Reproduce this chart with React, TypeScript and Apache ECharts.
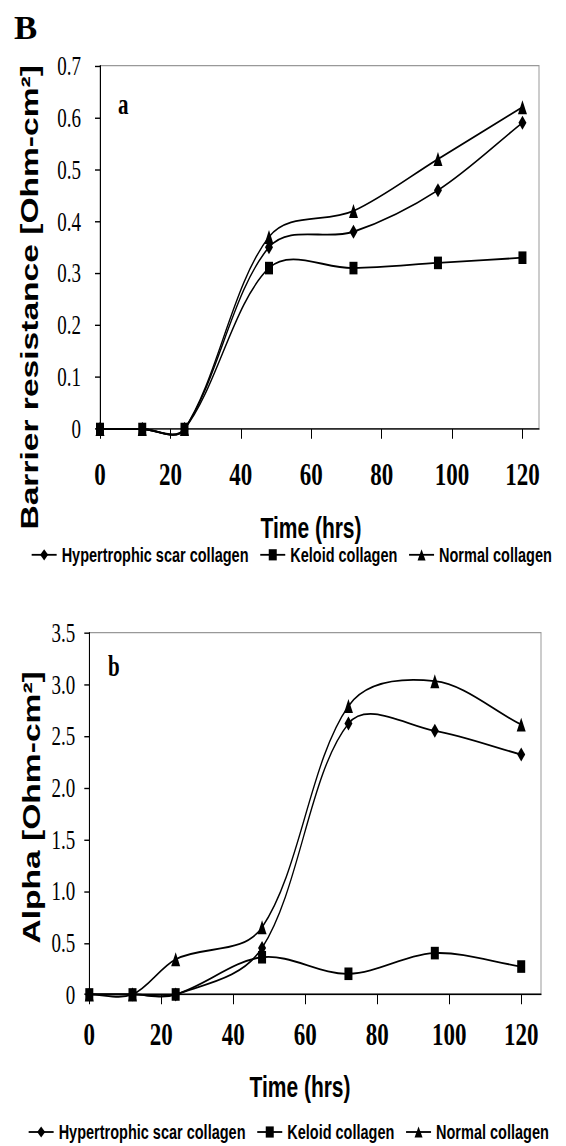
import React, { useEffect, useRef } from "react";
import * as echarts from "echarts";

const TIME_HOURS = [0, 12, 24, 48, 72, 96, 120];
const X_TICKS = [0, 20, 40, 60, 80, 100, 120];
const SERIES_NAMES = ["Hypertrophic scar collagen", "Keloid collagen", "Normal collagen"];

const BARRIER_HYPERTROPHIC = [0, 0, 0, 0.35, 0.38, 0.46, 0.59];
const BARRIER_KELOID = [0, 0, 0, 0.31, 0.31, 0.32, 0.33];
const BARRIER_NORMAL = [0, 0, 0, 0.37, 0.42, 0.52, 0.62];

const ALPHA_HYPERTROPHIC = [0, 0, 0, 0.45, 2.62, 2.55, 2.32];
const ALPHA_KELOID = [0, 0, 0, 0.36, 0.2, 0.4, 0.27];
const ALPHA_NORMAL = [0, 0, 0.34, 0.65, 2.79, 3.03, 2.61];

const W = 566;
const H = 819;
const K = 1146 / H;

const SERIF = '"Liberation Serif", "Times New Roman", serif';
const SANS = '"Liberation Sans", Arial, sans-serif';

const SYMBOLS = ["diamond", "rect", "triangle"];
const SYMBOL_SIZES: any[] = [[8, 10], [8, 9], [9, 10]];

// markers (and legend entries) as line series; the visible line is drawn by a custom series
function makeMarkers(values: number[][], axisIndex: number) {
  return values.map((ys, i) => ({
    type: "line",
    name: SERIES_NAMES[i],
    xAxisIndex: axisIndex,
    yAxisIndex: axisIndex,
    data: TIME_HOURS.map((t, j) => [t, ys[j]]),
    symbol: SYMBOLS[i],
    symbolSize: SYMBOL_SIZES[i],
    showSymbol: true,
    lineStyle: { color: "#000", width: 1.3, opacity: 0 },
    itemStyle: { color: "#000" },
    z: 3,
  }));
}

// Excel-like smoothed curves (cardinal Bezier, tangents weighted by segment length)
function makeCurves(values: number[][], axisIndex: number) {
  const n = TIME_HOURS.length;
  const clamp = (k: number) => Math.max(0, Math.min(n - 1, k));
  const S = 1 / 3;
  return values.map((ys) => ({
    type: "custom",
    xAxisIndex: axisIndex,
    yAxisIndex: axisIndex,
    silent: true,
    clip: false,
    z: 2,
    data: TIME_HOURS.slice(0, -1).map((t, i) => [t, ys[i], TIME_HOURS[i + 1], ys[i + 1]]),
    encode: { x: [0, 2], y: [1, 3] },
    renderItem: (params: any, api: any) => {
      const i = params.dataIndex;
      const p = (k: number) => api.coord([TIME_HOURS[clamp(k)], ys[clamp(k)]]);
      const dist = (a: number[], b: number[]) => Math.hypot(a[0] - b[0], a[1] - b[1]);
      const p0 = p(i - 1);
      const p1 = p(i);
      const p2 = p(i + 1);
      const p3 = p(i + 2);
      const d01 = dist(p0, p1);
      const d12 = dist(p1, p2);
      const d23 = dist(p2, p3);
      // outgoing control at p1
      const w1 = d01 + d12 > 0 ? (2 * d12) / (d01 + d12) : 0;
      const w2 = d12 + d23 > 0 ? (2 * d12) / (d12 + d23) : 0;
      const a = S * 0.5 * w1;
      const b = S * 0.5 * w2;
      return {
        type: "bezierCurve",
        shape: {
          x1: p1[0],
          y1: p1[1],
          x2: p2[0],
          y2: p2[1],
          cpx1: p1[0] + (p2[0] - p0[0]) * a,
          cpy1: p1[1] + (p2[1] - p0[1]) * a,
          cpx2: p2[0] - (p3[0] - p1[0]) * b,
          cpy2: p2[1] - (p3[1] - p1[1]) * b,
        },
        style: { stroke: "#000", lineWidth: 1.3, fill: null },
      };
    },
  }));
}

function xAxis(gridIndex: number, max: number, margin: number) {
  return {
    type: "value",
    gridIndex,
    min: 0,
    max,
    interval: 20,
    axisLine: { show: true, lineStyle: { color: "#000", width: 1 } },
    axisTick: { show: true, length: 7, customValues: X_TICKS, lineStyle: { color: "#000" } },
    axisLabel: {
      customValues: X_TICKS,
      margin,
      fontFamily: SERIF,
      fontWeight: "bold",
      fontSize: 23,
      color: "#000",
      formatter: (v: number) => (v % 20 === 0 ? String(v) : ""),
    },
    splitLine: { show: false },
  };
}

function yAxis(gridIndex: number, max: number, interval: number, margin: number, fixed: boolean) {
  return {
    type: "value",
    gridIndex,
    min: 0,
    max,
    interval,
    axisLine: { show: true, lineStyle: { color: "#000", width: 1 } },
    axisTick: { show: true, length: 5, lineStyle: { color: "#000" } },
    axisLabel: {
      margin,
      fontFamily: SERIF,
      fontSize: 19,
      color: "#000",
      formatter: (v: number) => (v === 0 ? "0" : fixed ? v.toFixed(1) : String(Math.round(v * 10) / 10)),
    },
    splitLine: { show: false },
  };
}

function legend(left: number, top: number) {
  return {
    left,
    top,
    orient: "horizontal",
    data: SERIES_NAMES,
    selectedMode: false,
    itemWidth: 25,
    itemHeight: 10,
    itemGap: 11,
    lineStyle: { color: "#000", width: 1.3, opacity: 1 },
    itemStyle: { color: "#000", opacity: 1 },
    textStyle: { fontFamily: SANS, fontWeight: "bold", fontSize: 14.5, color: "#000", lineHeight: 16 },
  };
}

function text(x: number, y: number, str: string, font: any, extra: any = {}) {
  return {
    type: "text",
    x,
    y,
    ...extra,
    style: {
      text: str,
      fill: "#000",
      align: "center",
      verticalAlign: "middle",
      ...font,
    },
  };
}

export default function App() {
  const ref = useRef<HTMLDivElement>(null);
  useEffect(() => {
    if (!ref.current) return;
    document.body.style.overflow = "hidden";
    const chart = echarts.init(ref.current, null, { renderer: "svg" });
    const option: any = {
      animation: false,
      backgroundColor: "#fff",
      grid: [
        { left: 100, top: 46.9, width: 439, height: 259.7, show: true, borderColor: "#999", borderWidth: 1 },
        { left: 89.3, top: 452.1, width: 451.7, height: 258.6, show: true, borderColor: "#999", borderWidth: 1 },
      ],
      xAxis: [xAxis(0, 124.7, 21), xAxis(1, 125.5, 17)],
      yAxis: [yAxis(0, 0.7, 0.1, 19, false), yAxis(1, 3.5, 0.5, 14, true)],
      legend: [legend(26, 383.5), legend(23, 796)],
      series: [
        ...makeCurves([BARRIER_HYPERTROPHIC, BARRIER_KELOID, BARRIER_NORMAL], 0),
        ...makeCurves([ALPHA_HYPERTROPHIC, ALPHA_KELOID, ALPHA_NORMAL], 1),
        ...makeMarkers([BARRIER_HYPERTROPHIC, BARRIER_KELOID, BARRIER_NORMAL], 0),
        ...makeMarkers([ALPHA_HYPERTROPHIC, ALPHA_KELOID, ALPHA_NORMAL], 1),
      ],
      graphic: [
        text(14, 20, "B", { fontFamily: SERIF, fontWeight: "bold", fontSize: 24, align: "left" }, { scaleX: 1.45 }),
        text(118, 74.6, "a", { fontFamily: SERIF, fontWeight: "bold", fontSize: 21, align: "left" }),
        text(108, 476, "b", { fontFamily: SERIF, fontWeight: "bold", fontSize: 21, align: "left" }),
        text(311, 377.1, "Time (hrs)", { fontFamily: SANS, fontWeight: "bold", fontSize: 21 }),
        text(300, 776.4, "Time (hrs)", { fontFamily: SANS, fontWeight: "bold", fontSize: 21 }),
        text(30, 212.5, "Barrier resistance [Ohm-cm²]", { fontFamily: SANS, fontWeight: "bold", fontSize: 24 }, { rotation: Math.PI / 2 }),
        text(31.5, 577, "Alpha [Ohm-cm²]", { fontFamily: SANS, fontWeight: "bold", fontSize: 24 }, { rotation: Math.PI / 2 }),
      ],
    };
    chart.setOption(option);
    return () => chart.dispose();
  }, []);
  return (
    <div
      ref={ref}
      style={{
        position: "absolute",
        left: 0,
        top: 0,
        width: W,
        height: H,
        transform: `scaleY(${K})`,
        transformOrigin: "0 0",
      }}
    />
  );
}
